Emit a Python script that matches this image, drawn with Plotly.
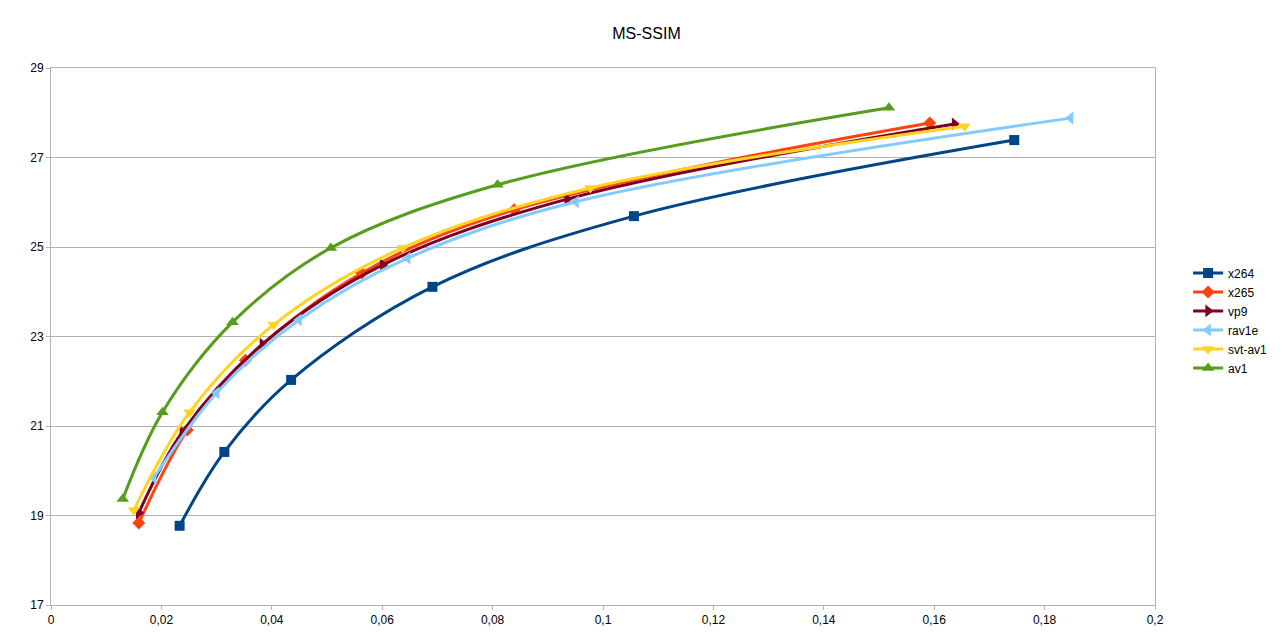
import plotly.graph_objects as go

# bitrate (x) and MS-SSIM (y) per encoder
x264_x = [0.0233, 0.0314, 0.0435, 0.0691, 0.1056, 0.1745]
x264_y = [18.77, 20.42, 22.03, 24.11, 25.69, 27.39]

x265_x = [0.0159, 0.0247, 0.0352, 0.0563, 0.0839, 0.1592]
x265_y = [18.83, 20.91, 22.47, 24.42, 25.83, 27.77]

vp9_x = [0.0159, 0.0238, 0.0383, 0.0601, 0.0935, 0.1637]
vp9_y = [19.06, 20.87, 22.83, 24.60, 26.07, 27.75]

rav1e_x = [0.0186, 0.0300, 0.0449, 0.0646, 0.0951, 0.1847]
rav1e_y = [19.84, 21.74, 23.37, 24.75, 26.01, 27.88]

svtav1_x = [0.0150, 0.0251, 0.0403, 0.0637, 0.0977, 0.1655]
svtav1_y = [19.12, 21.31, 23.26, 24.98, 26.32, 27.70]

av1_x = [0.0130, 0.0202, 0.0329, 0.0507, 0.0809, 0.1518]
av1_y = [19.37, 21.31, 23.32, 24.98, 26.39, 28.11]

series = [
    ("x264", x264_x, x264_y, "#004586", "square", 10),
    ("x265", x265_x, x265_y, "#ff420e", "diamond", 10),
    ("vp9", vp9_x, vp9_y, "#7e0021", "triangle-right", 11),
    ("rav1e", rav1e_x, rav1e_y, "#83caff", "triangle-left", 11),
    ("svt-av1", svtav1_x, svtav1_y, "#ffd320", "triangle-down", 11),
    ("av1", av1_x, av1_y, "#579d1c", "triangle-up", 11),
]

fig = go.Figure()
for name, xs, ys, color, symbol, size in series:
    fig.add_scatter(
        x=xs, y=ys, name=name, mode="lines+markers",
        line=dict(color=color, width=3, shape="spline", smoothing=1),
        marker=dict(color=color, symbol=symbol, size=size),
    )

grid = "#b3b3b3"
# page body has an 8px margin, so the figure sits at (8, 8) in the window
fig.update_layout(
    width=1277, height=627,
    template="none",
    paper_bgcolor="white", plot_bgcolor="white",
    separators=", ",
    font=dict(family="Liberation Sans, Arial, sans-serif", size=12, color="black"),
    title=dict(text="MS-SSIM", x=0.5, xanchor="center", y=1 - 25 / 627, yanchor="middle",
               font=dict(size=16)),
    margin=dict(l=43, r=124, t=60, b=30),
    legend=dict(x=1.03, xanchor="left", y=0.53, yanchor="middle",
                font=dict(size=12), tracegroupgap=0, bgcolor="rgba(0,0,0,0)"),
    xaxis=dict(range=[0, 0.2], dtick=0.02, tick0=0, showgrid=False, zeroline=False,
               showline=True, linecolor=grid, linewidth=1, mirror=True,
               ticks="outside", ticklen=4, tickcolor=grid, automargin=False),
    yaxis=dict(range=[17, 29], dtick=2, tick0=17, showgrid=True, gridcolor=grid,
               gridwidth=1, zeroline=False, showline=True, linecolor=grid, linewidth=1,
               mirror=True, ticks="outside", ticklen=4, tickcolor=grid, automargin=False),
)

fig.write_html("out.html")
